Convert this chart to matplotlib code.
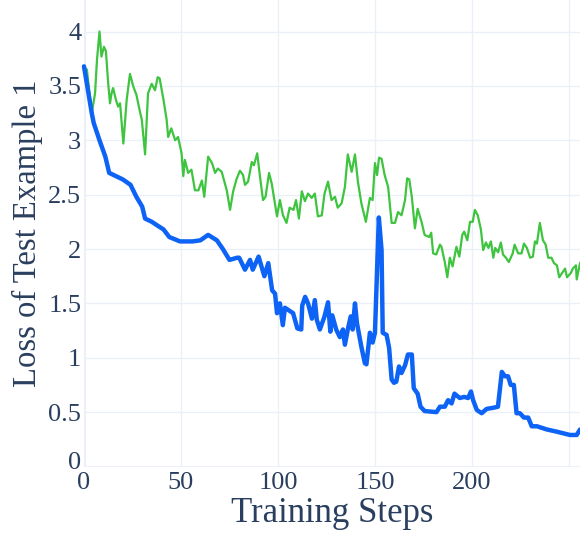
import matplotlib
matplotlib.use("Agg")
import matplotlib.pyplot as plt
import matplotlib.transforms as mtransforms

# ---- data ----
blue_x = [0, 4, 5, 8, 11, 13, 20, 24, 27, 30, 31.5, 35, 37.5, 41, 44, 49.5, 56, 60, 64, 68.5,
          71.6, 75, 79, 80, 83, 85.6, 87, 90, 93, 95, 97, 98.5, 99.5, 101, 102.5, 103.6, 107.8,
          110, 112, 112.5, 114, 115.5, 117.5, 119, 120, 121.6, 124, 125.8, 127, 128, 130, 131.9,
          133.5, 134.5, 136, 137.5, 138.5, 139.7, 140.7, 143, 144.8, 145.6, 147.4, 148.8, 150,
          152, 153.4, 154, 156, 157.3, 158.6, 159.8, 161, 162.4, 163.7, 165.5, 167, 169, 170,
          172, 173.5, 175.6, 181.7, 183.5, 186, 187.7, 189.5, 191, 193.7, 196, 198, 199.5, 200.6,
          202.5, 205, 207.6, 211, 213.4, 215.4, 217, 218.6, 220, 221.6, 223, 224.7, 226.8, 229,
          230.8, 233.5, 238.7, 243.8, 250.5, 254, 255.7]
blue_y = [3.68, 3.25, 3.16, 3.0, 2.85, 2.70, 2.64, 2.59, 2.48, 2.39, 2.28, 2.25, 2.22, 2.18, 2.11,
          2.07, 2.07, 2.08, 2.13, 2.08, 2.0, 1.90, 1.92, 1.92, 1.81, 1.90, 1.81, 1.93, 1.75, 1.87,
          1.62, 1.59, 1.41, 1.50, 1.30, 1.46, 1.41, 1.27, 1.26, 1.48, 1.56, 1.50, 1.36, 1.53, 1.35,
          1.26, 1.38, 1.51, 1.24, 1.39, 1.26, 1.19, 1.26, 1.12, 1.26, 1.38, 1.26, 1.50, 1.32, 1.10,
          0.95, 0.94, 1.23, 1.14, 1.23, 2.29, 1.99, 1.23, 1.21, 1.09, 0.80, 0.77, 0.78, 0.92, 0.86,
          0.93, 1.03, 1.03, 0.72, 0.67, 0.55, 0.51, 0.50, 0.55, 0.55, 0.61, 0.58, 0.67, 0.63, 0.64,
          0.63, 0.69, 0.61, 0.52, 0.49, 0.53, 0.54, 0.55, 0.87, 0.83, 0.83, 0.75, 0.75, 0.49, 0.49,
          0.45, 0.45, 0.37, 0.37, 0.34, 0.32, 0.29, 0.29, 0.34]

green_x = [0, 1.5, 4, 5.7, 6.7, 8, 9, 10.3, 11.3, 12.5, 13.4, 14.2, 15, 16.5, 17.6, 18.6, 20.3,
           22, 23.7, 25.5, 27, 29, 29.8, 31.5, 33, 34.9, 36.6, 38, 39, 41, 42.6, 43.4, 45, 47,
           48.5, 50.3, 51.2, 52, 53.7, 55.4, 57.2, 59, 60.8, 62, 64, 66, 67.6, 69, 71, 73.6, 75.3,
           76.9, 78.6, 80.4, 82, 83, 84.6, 86.5, 87.6, 89.3, 90.7, 92.3, 93.6, 95.4, 96.8, 99.5,
           101, 102.6, 104.4, 106, 108, 109.3, 110.8, 112.3, 113.9, 115.5, 117.4, 119, 120.6,
           122.6, 124, 125.8, 127.6, 129.4, 130.8, 132.8, 134.5, 136, 138, 139.7, 141.2, 143,
           145.3, 147.4, 148.8, 150, 151.1, 152.1, 153.4, 155, 156.8, 158.6, 160.3, 161.9, 163.7,
           165.5, 166.6, 167.7, 169, 170.6, 172, 174, 175.6, 178, 179, 180, 181.6, 183.5, 184.3,
           186, 187.3, 188.6, 190, 192, 193.5, 195, 196, 197.6, 199, 200.4, 201.5, 203, 204.6,
           205.8, 207.2, 208.5, 209.8, 211, 212, 213.5, 214.9, 216, 217.5, 219, 221, 222, 223.8,
           225.6, 226.8, 228.3, 230, 231.4, 232.5, 233.5, 235, 236.6, 238, 239.3, 241, 242.3,
           243.8, 245, 246.9, 248, 249, 251, 252, 253.6, 254, 255.7]
green_y = [3.67, 3.65, 3.25, 3.43, 3.74, 4.0, 3.77, 3.86, 3.82, 3.52, 3.34, 3.43, 3.48, 3.37, 3.31,
           3.34, 2.97, 3.37, 3.61, 3.49, 3.42, 3.25, 3.19, 2.87, 3.43, 3.52, 3.46, 3.58, 3.57, 3.37,
           3.19, 3.03, 3.11, 3.0, 3.03, 2.88, 2.67, 2.82, 2.70, 2.73, 2.54, 2.54, 2.63, 2.48, 2.85,
           2.79, 2.70, 2.74, 2.71, 2.54, 2.36, 2.53, 2.64, 2.72, 2.68, 2.59, 2.62, 2.80, 2.77, 2.88,
           2.67, 2.45, 2.48, 2.70, 2.60, 2.30, 2.45, 2.31, 2.24, 2.38, 2.36, 2.45, 2.28, 2.53, 2.44,
           2.51, 2.47, 2.51, 2.30, 2.31, 2.51, 2.62, 2.45, 2.48, 2.38, 2.42, 2.57, 2.87, 2.71, 2.87,
           2.62, 2.42, 2.25, 2.47, 2.45, 2.79, 2.68, 2.84, 2.83, 2.68, 2.57, 2.24, 2.24, 2.34, 2.31,
           2.45, 2.65, 2.64, 2.48, 2.19, 2.37, 2.25, 2.13, 2.11, 2.15, 1.96, 1.95, 2.04, 2.02, 1.88,
           1.74, 1.92, 1.84, 2.02, 1.93, 2.13, 2.16, 2.08, 2.25, 2.25, 2.36, 2.31, 2.18, 1.99, 2.06,
           2.01, 2.07, 1.92, 2.01, 1.97, 2.06, 1.95, 1.92, 1.88, 1.96, 2.04, 1.96, 1.96, 2.05, 2.01,
           1.92, 1.93, 2.07, 2.05, 2.24, 2.08, 2.04, 1.92, 1.92, 1.87, 1.85, 1.74, 1.79, 1.82, 1.74,
           1.78, 1.82, 1.85, 1.72, 1.87]

x_ticks = [0, 50, 100, 150, 200, 250]
x_tick_labels = ["0", "50", "100", "150", "200", ""]
y_ticks = [0, 0.5, 1, 1.5, 2, 2.5, 3, 3.5, 4]
y_tick_labels = ["0", "0.5", "1", "1.5", "2", "2.5", "3", "3.5", "4"]

# ---- figure ----
plt.rcParams["font.family"] = ["Liberation Serif", "DejaVu Serif"]
fig = plt.figure(figsize=(5.8, 5.41), dpi=100)
ax = fig.add_axes([0.1448, 0.1377, 0.8552, 0.8623])

grid_c = "#EBF0F8"
text_c = "#2a3f5f"

ax.set_xlim(0, 255.7)
ax.set_ylim(0, 4.29)
ax.set_xticks(x_ticks)
ax.set_xticklabels(x_tick_labels)
ax.set_yticks(y_ticks)
ax.set_yticklabels(y_tick_labels)
ax.grid(True, color=grid_c, linewidth=1.0, zorder=0)
ax.axhline(0, color=grid_c, linewidth=2.2, zorder=1)
ax.axvline(0, color=grid_c, linewidth=2.2, zorder=1)
for s in ax.spines.values():
    s.set_visible(False)
ax.tick_params(length=0, labelsize=19, colors=text_c)
ax.tick_params(axis="y", pad=2)
ax.tick_params(axis="x", pad=4)

# nudge the y-axis "0" up slightly so it sits above the x-axis "0"
zero_lbl = ax.get_yticklabels()[0]
zero_lbl.set_transform(zero_lbl.get_transform() +
                       mtransforms.ScaledTranslation(0, 4 / 72, fig.dpi_scale_trans))

ax.plot(green_x, green_y, color="#3ec43e", linewidth=1.6, zorder=3,
        solid_joinstyle="round", clip_on=False)
ax.plot(blue_x, blue_y, color="#0d63f5", linewidth=3.2, zorder=4,
        solid_joinstyle="round", solid_capstyle="round", clip_on=False)

ax.set_xlabel("Training Steps", fontsize=25, color=text_c, labelpad=2)
ax.set_ylabel("Loss of Test Example 1", fontsize=23.5, color=text_c, labelpad=4)

fig.savefig("out.png", dpi=100, facecolor="white")
